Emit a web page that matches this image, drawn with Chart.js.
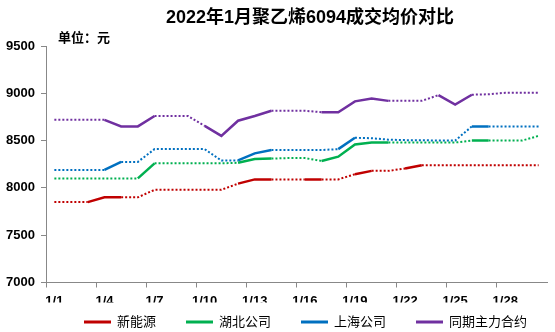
<!DOCTYPE html>
<html>
<head>
<meta charset="utf-8">
<script src="https://cdn.jsdelivr.net/npm/chart.js@4/dist/chart.umd.min.js"></script>
<style>
  html, body { margin: 0; padding: 0; background: #fff; }
  #wrap { width: 555px; height: 332px; }
</style>
</head>
<body>
<div id="wrap"><canvas id="c" width="555" height="332"></canvas></div>
<script>
// Daily categories for January 2022
const days = ['1/1','1/2','1/3','1/4','1/5','1/6','1/7','1/8','1/9','1/10',
              '1/11','1/12','1/13','1/14','1/15','1/16','1/17','1/18','1/19','1/20',
              '1/21','1/22','1/23','1/24','1/25','1/26','1/27','1/28','1/29','1/30'];

const chartTitle = '2022年1月聚乙烯6094成交均价对比';
const unitLabel = '单位：元';
const seriesNames = ['新能源', '湖北公司', '上海公司', '同期主力合约'];

// Average deal prices (yuan/ton)
const xinNengYuan = [7850,7850,7850,7900,7900,7900,7980,7980,7980,7980,
                     7980,8045,8090,8090,8090,8090,8090,8090,8145,8180,
                     8180,8205,8240,8240,8240,8240,8240,8240,8240,8240];
const hubei       = [8100,8100,8100,8100,8100,8100,8260,8260,8260,8260,
                     8260,8265,8305,8310,8315,8315,8285,8330,8460,8480,
                     8480,8480,8480,8480,8480,8500,8500,8500,8500,8550];
const shanghai    = [8190,8190,8190,8190,8275,8275,8410,8410,8410,8410,
                     8290,8290,8365,8400,8400,8400,8400,8410,8530,8525,
                     8510,8505,8505,8500,8500,8650,8650,8650,8650,8650];
const futures     = [8720,8720,8720,8720,8650,8650,8760,8760,8760,8655,
                     8550,8710,8760,8815,8815,8815,8800,8800,8915,8945,
                     8920,8920,8920,8980,8880,8985,8990,9005,9005,9005];

// Days with an actual quote; other days carry an estimated price (dotted)
const xinNengYuanQuoted = ['1/3','1/4','1/5','1/12','1/13','1/14','1/16','1/17','1/19','1/20','1/22','1/23'];
const hubeiQuoted       = ['1/6','1/7','1/12','1/13','1/14','1/17','1/18','1/19','1/20','1/21','1/26','1/27'];
const shanghaiQuoted    = ['1/4','1/5','1/12','1/13','1/14','1/18','1/19','1/26','1/27'];
const futuresQuoted     = ['1/4','1/5','1/6','1/7','1/10','1/11','1/12','1/13','1/14','1/17','1/18','1/19','1/20','1/21','1/24','1/25','1/26'];

const yMin = 7000, yMax = 9500, yStep = 500;

const colors = ['#C00000', '#00B050', '#0070C0', '#7030A0'];
const FAMILY = '"Liberation Sans", "Noto Sans CJK SC", sans-serif';
const AXIS = '#888888';

function makeSeries(name, values, quoted, color) {
  const q = new Set(quoted);
  const solid = ctx => q.has(days[ctx.p0DataIndex]) && q.has(days[ctx.p1DataIndex]);
  return {
    label: name,
    data: values,
    borderColor: color,
    backgroundColor: color,
    borderWidth: 2.5,
    pointRadius: 0,
    tension: 0,
    fill: false,
    segment: {
      borderDash: ctx => solid(ctx) ? [] : [2, 2],
      borderWidth: ctx => solid(ctx) ? 2.5 : 2
    }
  };
}

// Title, unit note and legend key drawn on top of the plot
const decorations = {
  id: 'decorations',
  afterDraw(chart) {
    const ctx = chart.ctx;
    ctx.save();
    ctx.fillStyle = '#000';
    ctx.textBaseline = 'middle';

    ctx.font = 'bold 18px ' + FAMILY;
    ctx.textAlign = 'center';
    ctx.fillText(chartTitle, 310, 18.5);

    ctx.font = 'bold 13px ' + FAMILY;
    ctx.textAlign = 'left';
    ctx.fillText(unitLabel, 58, 38.5);

    ctx.font = '13px ' + FAMILY;
    let x = 84;
    const y = 322;
    chart.data.datasets.forEach(ds => {
      ctx.fillStyle = ds.borderColor;
      ctx.fillRect(x, y - 1.5, 27, 3);
      ctx.fillStyle = '#000';
      ctx.fillText(ds.label, x + 33, y);
      x += 33 + ctx.measureText(ds.label).width + 30;
    });
    ctx.restore();
  }
};

new Chart(document.getElementById('c'), {
  type: 'line',
  data: {
    labels: days,
    datasets: [
      makeSeries(seriesNames[0], xinNengYuan, xinNengYuanQuoted, colors[0]),
      makeSeries(seriesNames[1], hubei, hubeiQuoted, colors[1]),
      makeSeries(seriesNames[2], shanghai, shanghaiQuoted, colors[2]),
      makeSeries(seriesNames[3], futures, futuresQuoted, colors[3])
    ]
  },
  options: {
    responsive: false,
    animation: false,
    devicePixelRatio: 1,
    layout: { padding: { top: 46, right: 8, bottom: 29.5, left: 0 } },
    plugins: {
      legend: { display: false },
      title: { display: false },
      tooltip: { enabled: false }
    },
    scales: {
      x: {
        type: 'category',
        offset: true,
        grid: {
          offset: true,
          drawOnChartArea: false,
          drawTicks: true,
          tickLength: 5,
          color: AXIS,
          tickColor: ctx => (ctx.index % 3 === 0 ? AXIS : 'rgba(0,0,0,0)')
        },
        border: { display: true, color: AXIS, width: 1 },
        ticks: {
          autoSkip: false,
          maxRotation: 0,
          minRotation: 0,
          padding: 6,
          color: '#000',
          font: { family: FAMILY, size: 13, weight: 'bold' },
          callback: (v, i) => (i % 3 === 0 ? days[i] : '')
        },
        afterFit: s => { s.height = 20; }
      },
      y: {
        min: yMin,
        max: yMax,
        grid: {
          drawOnChartArea: false,
          drawTicks: true,
          tickLength: 5,
          color: AXIS
        },
        border: { display: true, color: AXIS, width: 1 },
        ticks: {
          stepSize: yStep,
          padding: 6,
          color: '#000',
          font: { family: FAMILY, size: 13, weight: 'bold' },
          callback: v => String(v)
        },
        afterFit: s => { s.width = 46; }
      }
    }
  },
  plugins: [decorations]
});
</script>
</body>
</html>
